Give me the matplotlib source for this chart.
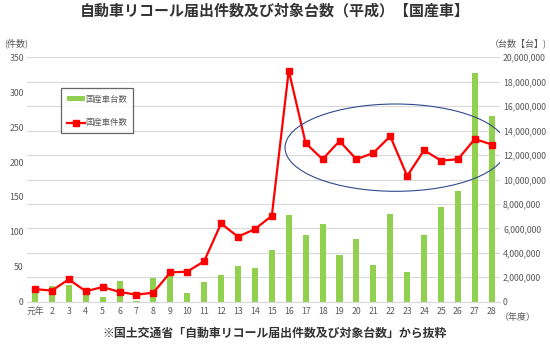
import matplotlib
matplotlib.use("Agg")
import matplotlib.pyplot as plt
from matplotlib.patches import Ellipse
from matplotlib.ticker import FuncFormatter
import numpy as np

plt.rcParams['font.family'] = ['Noto Sans CJK JP', 'DejaVu Sans']

years = ['元年'] + [str(i) for i in range(2, 29)]
units = [1.18e6, 1.29e6, 1.34e6, 0.82e6, 0.41e6, 1.72e6, 0.05e6, 1.97e6, 2.27e6, 0.69e6,
         1.61e6, 2.16e6, 2.93e6, 2.79e6, 4.26e6, 7.1e6, 5.43e6, 6.33e6, 3.82e6, 5.1e6,
         2.98e6, 7.2e6, 2.43e6, 5.43e6, 7.74e6, 9.1e6, 18.74e6, 15.2e6]
cases = [18, 16, 32, 15, 21, 14, 10, 13, 42, 43, 58, 112, 93, 104, 123, 331, 227, 204,
         230, 204, 213, 237, 180, 217, 202, 204, 233, 225]

fig = plt.figure(figsize=(5.5, 3.47), dpi=100)
ax = fig.add_axes([0.0482, 0.1305, 0.8613, 0.7044])
ax2 = ax.twinx()
ax.set_zorder(ax2.get_zorder() + 1)
ax.patch.set_visible(False)

x = np.arange(len(years))
green = '#92D050'
red = '#FF0000'
tick_color = '#595959'

bars = ax2.bar(x, units, width=0.36, color=green, zorder=2, label='国産車台数')
ax2.set_ylim(0, 20e6)
ax2.set_yticks(np.arange(0, 20e6 + 1, 2e6))
ax2.yaxis.set_major_formatter(FuncFormatter(lambda v, p: f'{int(v):,}'))
ax2.yaxis.grid(True, color='#D9D9D9', linewidth=0.8)
ax2.set_axisbelow(True)

line, = ax.plot(x, cases, color=red, linewidth=1.6, marker='s', markersize=3.8,
                label='国産車件数', zorder=3)
ax.set_ylim(0, 350)
ax.set_yticks(np.arange(0, 351, 50))
ax.set_xlim(-0.5, len(years) - 0.5)
ax.set_xticks(x)
ax.set_xticklabels(years)

for a in (ax, ax2):
    for s in a.spines.values():
        s.set_visible(False)
    a.tick_params(length=0, labelsize=6.3, colors=tick_color, pad=2)
ax.spines['bottom'].set_visible(True)
ax.spines['bottom'].set_color('#D9D9D9')
ax.tick_params(axis='x', pad=4)

ell = Ellipse((21.33, 220.6), 13.1, 125, fill=False, edgecolor='#2F4A8C',
              linewidth=0.8, zorder=4)
ax.add_patch(ell)

leg = ax.legend([bars, line], ['国産車台数', '国産車件数'], loc='upper left',
                bbox_to_anchor=(0.073, 0.873), fontsize=6.0, frameon=True,
                fancybox=False, edgecolor='#404040', handlelength=2.1,
                handleheight=0.45, labelspacing=1.75, borderpad=0.75,
                handletextpad=0.05, borderaxespad=0)
leg.get_frame().set_linewidth(0.9)
for t in leg.get_texts():
    t.set_color(tick_color)

fig.text(0.499, 0.97, '自動車リコール届出件数及び対象台数（平成）【国産車】', ha='center', va='center',
         fontsize=10.8, fontweight='bold', color='#333333')
fig.text(0.5, 0.04, '※国土交通省「自動車リコール届出件数及び対象台数」から抜粋', ha='center',
         va='center', fontsize=8.6, fontweight='bold', color='#333333')
fig.text(0.008, 0.875, '(件数)', ha='left', va='center', fontsize=6.5, color=tick_color)
fig.text(0.995, 0.875, '（台数【台】)', ha='right', va='center', fontsize=6.5, color=tick_color)
fig.text(0.942, 0.085, '（年度）', ha='center', va='center', fontsize=6.5, color=tick_color)

fig.savefig('out.png', dpi=100)
